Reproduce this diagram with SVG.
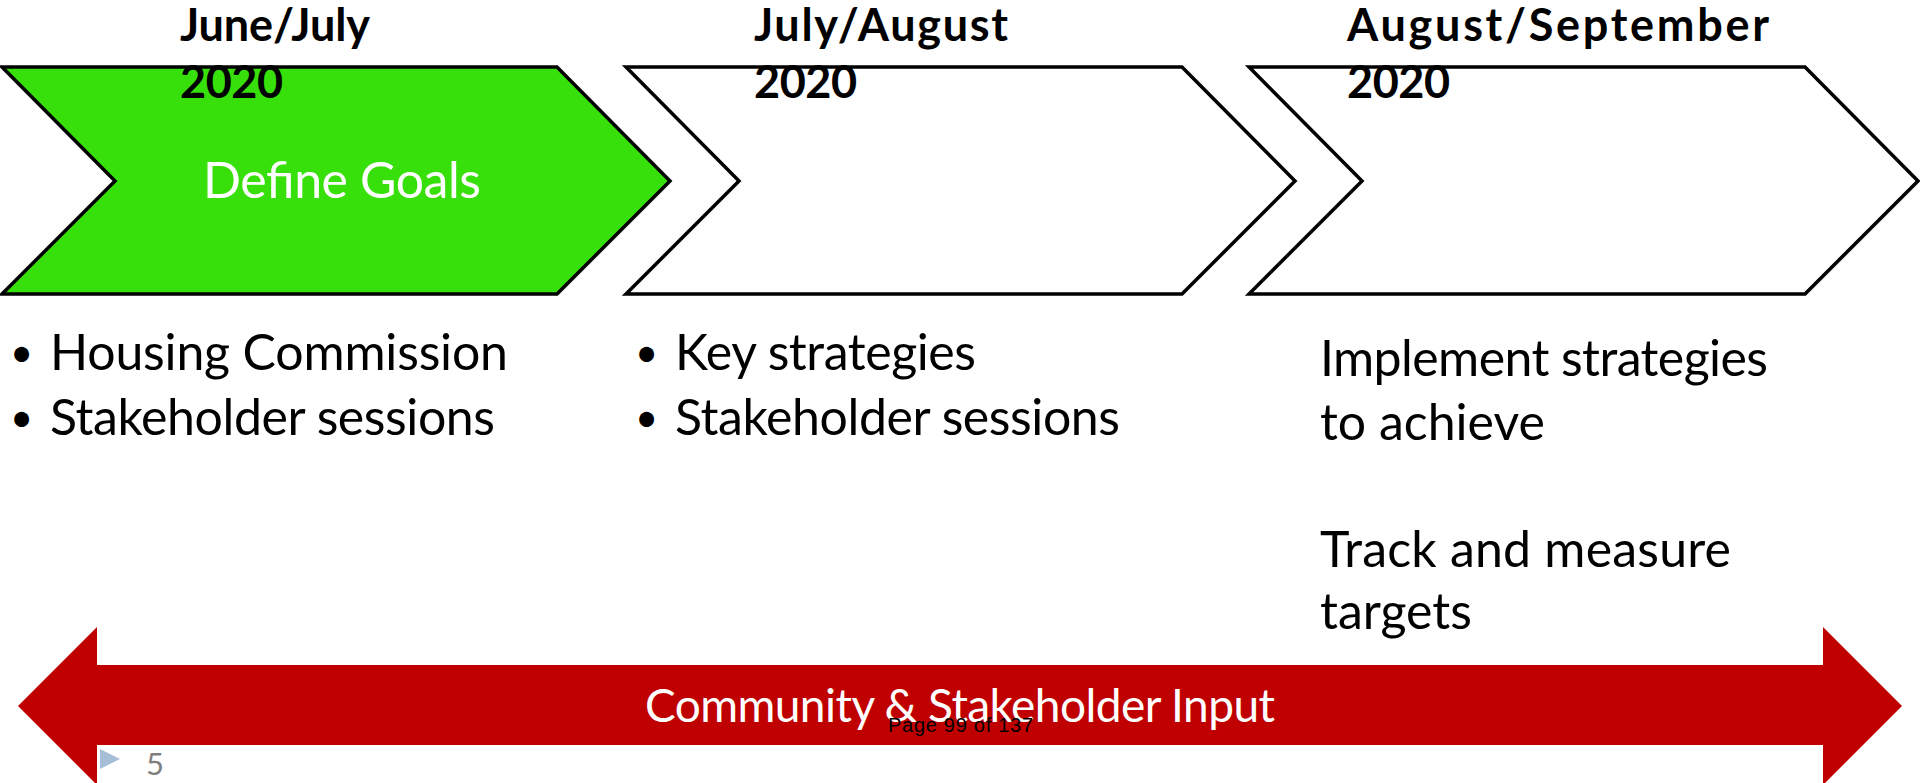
<svg xmlns="http://www.w3.org/2000/svg" width="1920" height="783" viewBox="0 0 1920 783">
<style>
.chev{stroke:#000;stroke-width:3.5;stroke-linejoin:miter}
.hd{font-family:Lato,"Liberation Sans",sans-serif;font-weight:bold;font-size:45px;fill:#000}
.bd{font-family:Lato,"Liberation Sans",sans-serif;font-size:50px;fill:#000}
.bl{font-family:Lato,"Liberation Sans",sans-serif;font-size:40px;fill:#000}
.wt{font-family:Lato,"Liberation Sans",sans-serif;fill:#fff}
</style>
<rect width="1920" height="783" fill="#fff"/>
<g id="step1">
<polygon class="chev" fill="#38E00B" points="2,67 557,67 670,181 557,294 2,294 115,181"/>
<text class="wt" x="203" y="198" font-size="50" textLength="278">Define Goals</text>
</g>
<g id="step2">
<polygon class="chev" fill="#fff" points="626,67 1182,67 1295,181 1182,294 626,294 739,181"/>
</g>
<g id="step3">
<polygon class="chev" fill="#fff" points="1249,67 1805,67 1918,181 1805,294 1249,294 1362,181"/>
</g>
<g id="heading1">
<text class="hd" x="180" y="41" textLength="190">June/July</text>
<text class="hd" x="180" y="98" textLength="103">2020</text>
</g>
<g id="heading2">
<text class="hd" x="754" y="41" textLength="254">July/August</text>
<text class="hd" x="754" y="98" textLength="103">2020</text>
</g>
<g id="heading3">
<text class="hd" x="1347" y="41" textLength="422">August/September</text>
<text class="hd" x="1347" y="98" textLength="103">2020</text>
</g>
<g id="list1">
<text class="bl" x="10" y="367">•</text>
<text class="bd" x="50" y="370" textLength="458">Housing Commission</text>
<text class="bl" x="10" y="432">•</text>
<text class="bd" x="50" y="435" textLength="445">Stakeholder sessions</text>
</g>
<g id="list2">
<text class="bl" x="635" y="367">•</text>
<text class="bd" x="675" y="370" textLength="301">Key strategies</text>
<text class="bl" x="635" y="432">•</text>
<text class="bd" x="675" y="435" textLength="445">Stakeholder sessions</text>
</g>
<g id="list3">
<text class="bd" x="1320" y="376" textLength="448">Implement strategies</text>
<text class="bd" x="1320" y="440">to achieve</text>
<text class="bd" x="1320" y="567" textLength="411">Track and measure</text>
<text class="bd" x="1320" y="629">targets</text>
</g>
<g id="input-arrow">
<polygon fill="#C00000" points="18,706 97,627 97,665 1823,665 1823,627 1902,706 1823,785 1823,745 97,745 97,785"/>
<text class="wt" x="645" y="722" font-size="46" textLength="630">Community &amp; Stakeholder Input</text>
</g>
<g id="footer">
<polygon fill="#A7BFD6" points="100,749 100,769 120,759"/>
<text x="146" y="775" font-family="Lato,'Liberation Sans',sans-serif" font-size="31" fill="#808080">5</text>
<text x="888" y="732" font-family="'Liberation Sans',Arial,sans-serif" font-size="20" fill="#000" textLength="145">Page 99 of 137</text>
</g>
</svg>
